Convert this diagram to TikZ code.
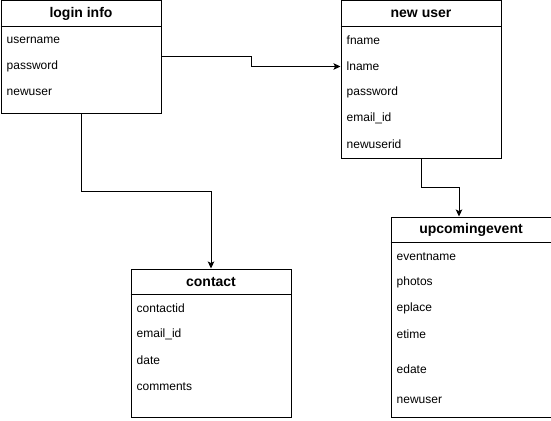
\documentclass[tikz,border=0pt]{standalone}
\usepackage{fontspec}
\setmainfont{Liberation Sans}
\usetikzlibrary{arrows.meta,calc}
\begin{document}
\begin{tikzpicture}[x=1pt,y=-1pt,
  tbl/.style={draw, line width=1pt, anchor=north west, minimum width=160pt, inner sep=0pt},
  hdr/.style={anchor=center, inner sep=0pt, font=\fontsize{14pt}{16pt}\selectfont\bfseries},
  row/.style={anchor=west, text width=148pt, inner xsep=6pt, inner ysep=0pt, align=left, font=\fontsize{12pt}{14pt}\selectfont},
  sep/.style={line width=1pt},
  conn/.style={line width=1pt, -{Stealth[length=7pt,width=6.5pt,inset=1.5pt]}}]
\useasboundingbox (0,0) rectangle (551,420);

% login info
\node[tbl, minimum height=112pt] (login) at (0.5,0.5) {};
\draw[sep] ($(login.north west)+(0,26)$) -- ($(login.north east)+(0,26)$);
\node[hdr] (login-h) at ($(login.north)+(0,13)$) {login info};
\node[row] (login-r1) at ($(login.north west)+(0,40)$) {username};
\node[row] (login-r2) at ($(login.north west)+(0,66)$) {password};
\node[row] (login-r3) at ($(login.north west)+(0,92)$) {newuser};

% new user
\node[tbl, minimum height=157pt] (nu) at (340.5,0.5) {};
\draw[sep] ($(nu.north west)+(0,26)$) -- ($(nu.north east)+(0,26)$);
\node[hdr] (nu-h) at ($(nu.north)+(0,13)$) {new user};
\node[row] (nu-r1) at ($(nu.north west)+(0,40)$) {fname};
\node[row] (nu-r2) at ($(nu.north west)+(0,66)$) {lname};
\node[row] (nu-r3) at ($(nu.north west)+(0,92)$) {password};
\node[row] (nu-r4) at ($(nu.north west)+(0,118)$) {email\_id};
\node[row] (nu-r5) at ($(nu.north west)+(0,144)$) {newuserid};

% contact
\node[tbl, minimum height=148pt] (ct) at (130.5,268.5) {};
\draw[sep] ($(ct.north west)+(0,26)$) -- ($(ct.north east)+(0,26)$);
\node[hdr] (ct-h) at ($(ct.north)+(0,13)$) {contact};
\node[row] (ct-r1) at ($(ct.north west)+(0,40)$) {contactid};
\node[row] (ct-r2) at ($(ct.north west)+(0,66)$) {email\_id};
\node[row] (ct-r3) at ($(ct.north west)+(0,92)$) {date};
\node[row] (ct-r4) at ($(ct.north west)+(0,118)$) {comments};

% upcomingevent
\node[tbl, minimum height=200pt] (ue) at (390.5,216.5) {};
\draw[sep] ($(ue.north west)+(0,26)$) -- ($(ue.north east)+(0,26)$);
\node[hdr] (ue-h) at ($(ue.north)+(0,13)$) {upcomingevent};
\node[row] (ue-r1) at ($(ue.north west)+(0,40)$) {eventname};
\node[row] (ue-r2) at ($(ue.north west)+(0,66)$) {photos};
\node[row] (ue-r3) at ($(ue.north west)+(0,92)$) {eplace};
\node[row] (ue-r4) at ($(ue.north west)+(0,118)$) {etime};
\node[row] (ue-r5) at ($(ue.north west)+(0,153)$) {edate};
\node[row] (ue-r6) at ($(ue.north west)+(0,184)$) {newuser};
\coordinate (ue-in) at ($(ue.north west)+(68.5,0)$);

% connectors
\draw[conn] (login.east) -- ++(89.5,0) |- (nu-r2.west);
\draw[conn] (login.south) -- ++(0,78) -| (ct.north);
\draw[conn] (nu.south) -- ++(0,29) -| (ue-in);
\end{tikzpicture}
\end{document}
